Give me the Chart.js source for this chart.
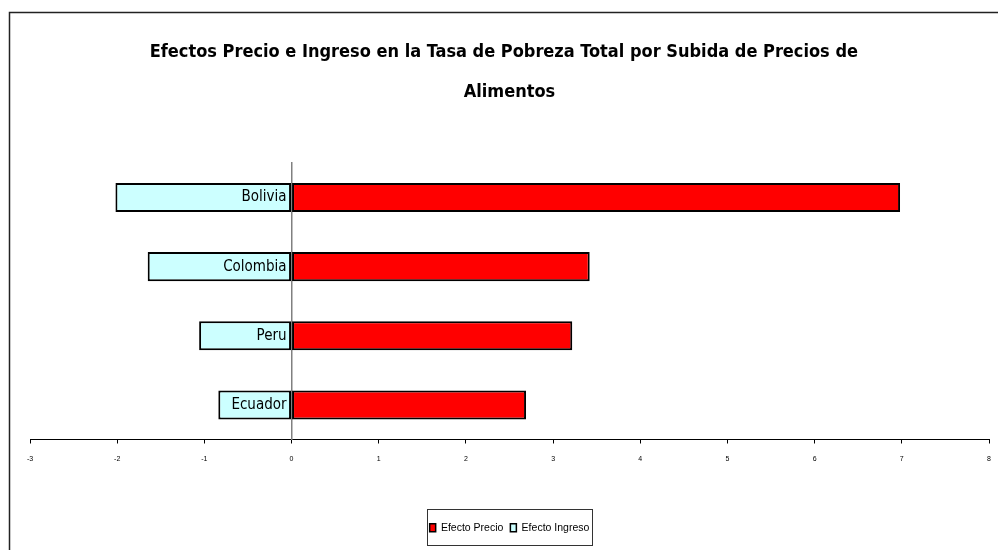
<!DOCTYPE html>
<html>
<head>
<meta charset="utf-8">
<script src="https://cdn.jsdelivr.net/npm/chart.js@4"></script>
<style>
  html, body { margin: 0; padding: 0; background: #fff; }
  #wrap { width: 998px; height: 550px; }
</style>
</head>
<body>
<div id="wrap"><canvas id="povertyChart" width="998" height="550"></canvas></div>
<script>
// Data
const countries = ['Bolivia', 'Colombia', 'Peru', 'Ecuador'];
const efectoPrecio = [6.98, 3.42, 3.22, 2.69];
const efectoIngreso = [-2.02, -1.65, -1.06, -0.84];
const xTicks = [-3, -2, -1, 0, 1, 2, 3, 4, 5, 6, 7, 8];

const condensed = '"DejaVu Sans Condensed", "Liberation Sans", Arial, sans-serif';
const sans = '"Liberation Sans", Arial, sans-serif';

// Frame lines (top and left) like the exported Excel chart
const framePlugin = {
  id: 'frame',
  beforeDraw(chart) {
    const c = chart.ctx;
    c.save();
    c.fillStyle = '#fff';
    c.fillRect(0, 0, chart.width, chart.height);
    c.strokeStyle = '#222';
    c.lineWidth = 1.5;
    c.beginPath();
    c.moveTo(9.5, chart.height);
    c.lineTo(9.5, 12.5);
    c.lineTo(chart.width, 12.5);
    c.stroke();
    c.restore();
  }
};

// Country names sit just left of the zero line, on top of the bars
const categoryLabelPlugin = {
  id: 'categoryLabels',
  afterDatasetsDraw(chart) {
    const c = chart.ctx;
    const xs = chart.scales.x;
    const ys = chart.scales.y;
    const x0 = xs.getPixelForValue(0);
    c.save();
    c.fillStyle = '#000';
    c.font = '15px ' + condensed;
    c.textAlign = 'right';
    c.textBaseline = 'middle';
    chart.data.labels.forEach((lab, i) => {
      c.fillText(lab, x0 - 5, ys.getPixelForValue(i));
    });
    c.restore();
  }
};

// Box round the legend items
const legendBoxPlugin = {
  id: 'legendBox',
  afterDraw(chart) {
    const boxes = chart.legend && chart.legend.legendHitBoxes;
    if (!boxes || !boxes.length) return;
    const first = boxes[0];
    const last = boxes[boxes.length - 1];
    const c = chart.ctx;
    const left = first.left - 3;
    const right = last.left + last.width + 2;
    const cy = first.top + first.height / 2;
    c.save();
    c.strokeStyle = '#333';
    c.lineWidth = 1;
    c.strokeRect(Math.round(left) + 0.5, Math.round(cy - 19) + 0.5, Math.round(right - left), 36);
    c.restore();
  }
};

const chart = new Chart(document.getElementById('povertyChart'), {
  type: 'bar',
  data: {
    labels: countries,
    datasets: [
      {
        label: 'Efecto Precio',
        data: efectoPrecio,
        backgroundColor: '#FF0000',
        borderColor: '#000',
        borderWidth: 2,
        borderSkipped: false,
      },
      {
        label: 'Efecto Ingreso',
        data: efectoIngreso,
        backgroundColor: '#CCFFFF',
        borderColor: '#000',
        borderWidth: 2,
        borderSkipped: false,
      },
    ],
  },
  options: {
    indexAxis: 'y',
    responsive: false,
    animation: false,
    layout: { padding: { left: 30, right: 9, top: 0, bottom: 7 } },
    datasets: { bar: { categoryPercentage: 1, barPercentage: 0.42 } },
    scales: {
      x: {
        type: 'linear',
        min: -3,
        max: 8,
        afterBuildTicks: (scale) => { scale.ticks = xTicks.map(v => ({ value: v })); },
        grid: { drawOnChartArea: false, drawTicks: true, tickLength: 4, color: '#000' },
        border: { color: '#000', width: 1 },
        ticks: { color: '#000', font: { family: sans, size: 7 }, padding: 11 },
        afterFit: (scale) => {
          scale.height = 76;
          scale.paddingLeft = 0;
          scale.paddingRight = 0;
        },
      },
      y: {
        type: 'category',
        stacked: true,
        position: { x: 0 },
        z: 1,
        grid: { display: false },
        border: { color: '#808080', width: 1.5 },
        ticks: { display: false },
      },
    },
    plugins: {
      title: {
        display: true,
        text: ['Efectos Precio e Ingreso en la Tasa de Pobreza Total por Subida de Precios de  ', 'Alimentos'],
        color: '#000',
        font: { family: condensed, size: 18, weight: 'bold', lineHeight: 2.22 },
        padding: { top: 32, bottom: 51 },
      },
      legend: {
        position: 'bottom',
        labels: {
          color: '#000',
          boxWidth: 6,
          boxHeight: 8,
          padding: 7,
          font: { family: sans, size: 10.5 },
          generateLabels: (ch) => ch.data.datasets.map((ds, i) => ({
            text: ds.label,
            fillStyle: ds.backgroundColor,
            strokeStyle: '#000',
            lineWidth: 1.5,
            datasetIndex: i,
          })),
        },
      },
      tooltip: { enabled: false },
    },
  },
  plugins: [framePlugin, categoryLabelPlugin, legendBoxPlugin],
});
</script>
</body>
</html>
